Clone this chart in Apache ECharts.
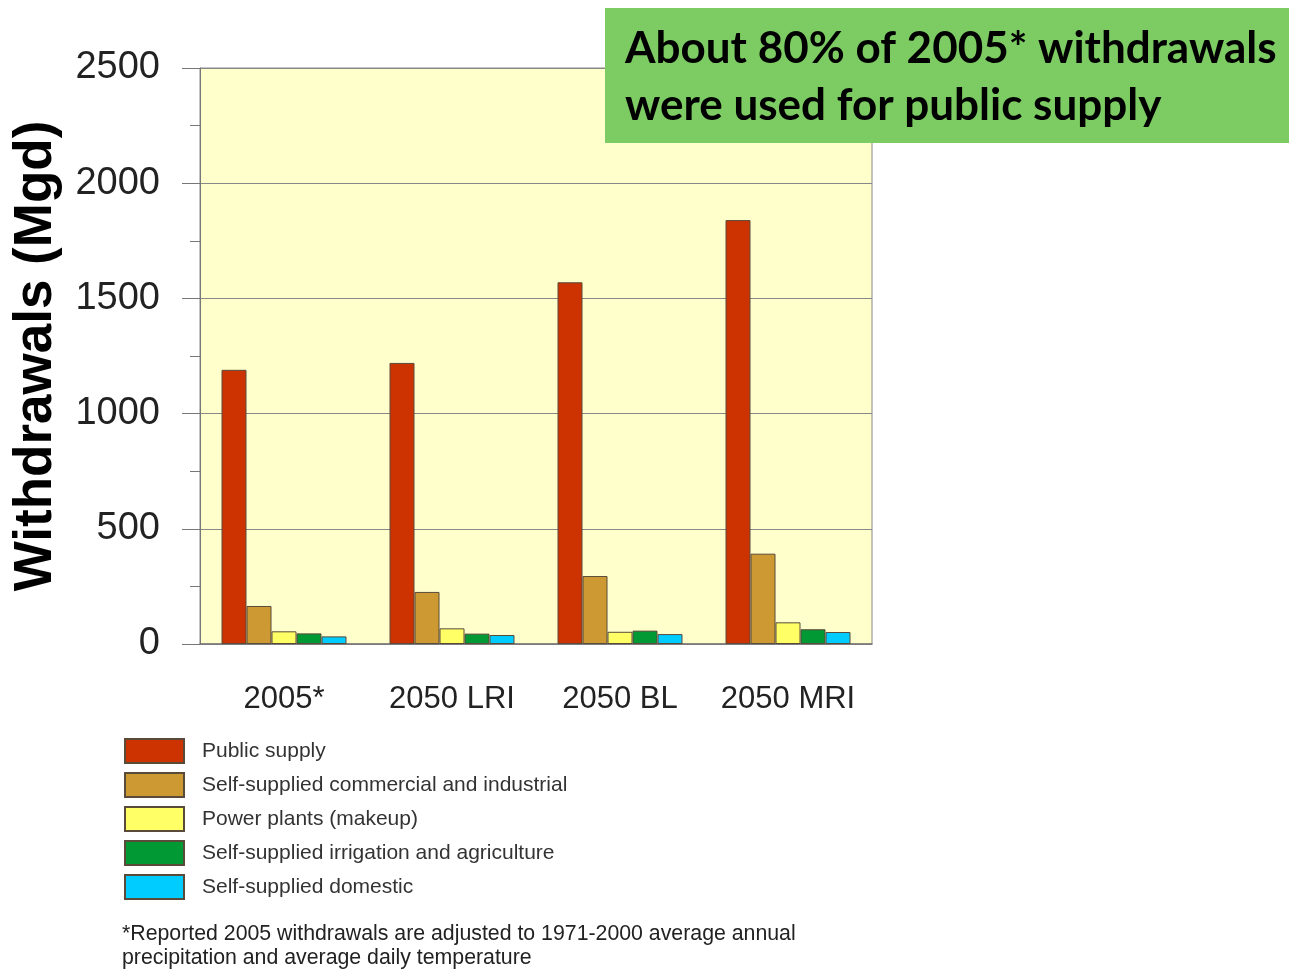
<!DOCTYPE html>
<html>
<head>
<meta charset="utf-8">
<script src="https://cdn.jsdelivr.net/npm/echarts@6/dist/echarts.min.js"></script>
<style>
  html, body { margin: 0; padding: 0; background: #fff; }
  #main { width: 1289px; height: 973px; }
</style>
</head>
<body>
<div id="main"></div>
<script>
// scenarios on the x axis
var categories = ['2005*', '2050 LRI', '2050 BL', '2050 MRI'];
var seriesNames = [
  'Public supply',
  'Self-supplied commercial and industrial',
  'Power plants (makeup)',
  'Self-supplied irrigation and agriculture',
  'Self-supplied domestic'
];
var publicSupply = [1190, 1220, 1570, 1840];
var commercialIndustrial = [165, 226, 295, 392];
var powerPlants = [55, 68, 53, 94];
var irrigationAgri = [46, 45, 58, 64];
var domestic = [33, 39, 43, 52];
var yTicks = [0, 500, 1000, 1500, 2000, 2500];

var colors = ['#CC3300', '#CC9933', '#FFFF66', '#009933', '#00CCFF'];
var allData = [publicSupply, commercialIndustrial, powerPlants, irrigationAgri, domestic];

var chart = echarts.init(document.getElementById('main'));

var series = [];
for (var i = 0; i < seriesNames.length; i++) {
  series.push({
    name: seriesNames[i],
    type: 'bar',
    barWidth: 25,
    barGap: '0%',
    itemStyle: {
      color: colors[i],
      borderColor: '#5a4a3a',
      borderWidth: 1
    },
    data: allData[i]
  });
}

chart.setOption({
  animation: false,
  backgroundColor: '#ffffff',
  legend: {
    orient: 'vertical',
    left: 124,
    top: 738,
    padding: 0,
    icon: 'rect',
    itemWidth: 59,
    itemHeight: 24,
    itemGap: 8,
    textStyle: {
      color: '#333',
      fontSize: 21,
      fontFamily: 'Liberation Sans',
      padding: [0, 0, 0, 13]
    },
    data: seriesNames
  },
  grid: {
    left: 200,
    top: 68,
    width: 672,
    height: 576,
    show: true,
    backgroundColor: '#FFFFCC',
    borderColor: '#888',
    borderWidth: 1
  },
  xAxis: {
    type: 'category',
    data: categories,
    axisTick: { show: false },
    axisLine: { lineStyle: { color: '#777', width: 1.5 } },
    axisLabel: {
      interval: 0,
      color: '#222',
      fontSize: 31,
      fontFamily: 'Liberation Sans',
      margin: 40
    }
  },
  yAxis: {
    type: 'value',
    min: 0,
    max: 2500,
    interval: 500,
    name: 'Withdrawals (Mgd)',
    nameLocation: 'middle',
    nameGap: 137,
    nameTextStyle: {
      color: '#000',
      fontSize: 53,
      fontWeight: 'bold',
      fontFamily: 'Liberation Sans'
    },
    axisLine: { show: true, lineStyle: { color: '#777' } },
    axisTick: { show: true, length: 18, lineStyle: { color: '#777' } },
    minorTick: { show: true, splitNumber: 2, length: 10, lineStyle: { color: '#777' } },
    splitLine: { show: true, lineStyle: { color: '#888', width: 1 } },
    axisLabel: {
      color: '#222',
      fontSize: 38,
      fontFamily: 'Liberation Sans',
      margin: 40,
      formatter: function (v) { return yTicks.indexOf(v) >= 0 ? String(v) : ''; }
    }
  },
  graphic: [
    {
      type: 'rect',
      left: 605,
      top: 8,
      shape: { width: 684, height: 135 },
      style: { fill: '#7DCB63' },
      z: 100
    },
    {
      type: 'text',
      left: 625,
      top: 20,
      style: {
        text: 'About 80% of 2005* withdrawals\nwere used for public supply',
        font: 'bold 44px Lato',
        lineHeight: 57,
        fill: '#000'
      },
      z: 101
    },
    {
      type: 'text',
      left: 122,
      top: 922,
      style: {
        text: '*Reported 2005 withdrawals are adjusted to 1971-2000 average annual\nprecipitation and average daily temperature',
        font: '21.3px Liberation Sans',
        lineHeight: 24,
        fill: '#222'
      }
    }
  ],
  series: series
});
</script>
</body>
</html>
